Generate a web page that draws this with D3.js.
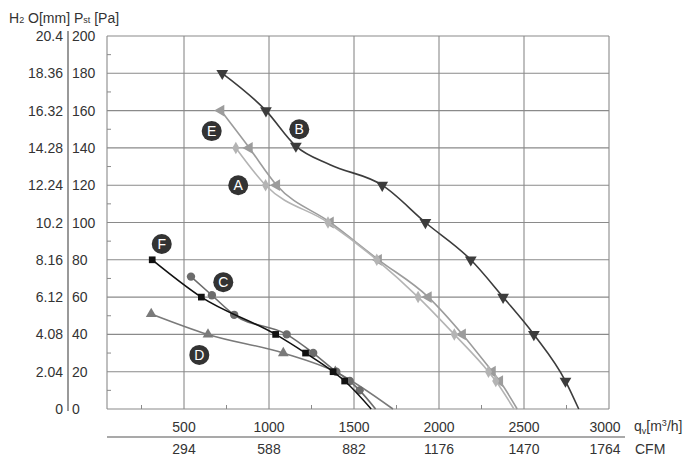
<!DOCTYPE html>
<html>
<meta charset="utf-8">
<style>
    body { margin: 0; background: #fff; }
    text { font-family: 'Liberation Sans', Arial, sans-serif; fill: #333; }
</style>
<body>
<svg width="700" height="467"></svg>
<script src="https://d3js.org/d3.v7.min.js"></script>
<script>
    // fan curves, [qv m3/h, Pst Pa, marker?]
    let curveA = [[805,140],[980,120],[1347,100],[1634,80],[1877,60],[2090,40],[2291,20],[2334,15],[2441,0,0]];
    let curveB = [[725,180],[982,160],[1158,141],[1359,131,0],[1666,120],[1920,100],[2187,80],[2377,60],[2558,40],[2744,15],[2822,0,0]];
    let curveC = [[541,71],[664,61],[795,50.5],[1104,40],[1260,30],[1396,20],[1475,15],[1533,10],[1627,0,0]];
    let curveD = [[307,51],[641,40],[1084,30],[1390,20],[1729,0,0]];
    let curveE = [[717,160],[884,140],[1045,120],[1361,100],[1644,80],[1937,60],[2138,40],[2314,20],[2357,15],[2460,0,0]];
    let curveF = [[313,80],[602,60],[1039,40],[1215,30],[1377,20],[1445,15],[1601,0,0]];

    let paTicks = [0,20,40,60,80,100,120,140,160,180,200];
    let mmTicks = ["0","2.04","4.08","6.12","8.16","10.2","12.24","14.28","16.32","18.36","20.4"];
    let qvTicks = [500,1000,1500,2000,2500,3000];
    let cfmTicks = ["294","588","882","1176","1470","1764"];

    // letter tags, [name, qv, Pst]
    let tags = [["E",663,149],["B",1178,150],["A",819,120],["C",731,68],["D",590,29],["F",369,88.5]];

    let margin = {top: 36, right: 91, bottom: 58, left: 107},
        width = 700 - margin.left - margin.right,
        height = 467 - margin.top - margin.bottom;

    let svg = d3.select("svg");
    let g = svg.append("g").attr("transform","translate("+margin.left+","+margin.top+")");

    let xScale = d3.scaleLinear().domain([47, 3000]).range([0, width]);
    let yScale = d3.scaleLinear().domain([0, 200]).range([height, 0]);

    // grid
    g.append("g").selectAll("line").data(paTicks).join("line")
        .attr("x1", 0).attr("x2", width)
        .attr("y1", d => yScale(d)).attr("y2", d => yScale(d))
        .style("stroke", "#8a8a8a").style("stroke-width", 1.1);
    g.append("g").selectAll("line").data(qvTicks).join("line")
        .attr("x1", d => xScale(d)).attr("x2", d => xScale(d))
        .attr("y1", 0).attr("y2", height)
        .style("stroke", "#8a8a8a").style("stroke-width", 1.1);
    g.append("line").attr("x1",0).attr("x2",0).attr("y1",0).attr("y2",height)
        .style("stroke", "#8a8a8a").style("stroke-width", 1.1);

    // minor ticks
    g.append("g").selectAll("line").data(d3.range(10, 200, 20)).join("line")
        .attr("x1", 0).attr("x2", 4)
        .attr("y1", d => yScale(d)).attr("y2", d => yScale(d))
        .style("stroke", "#8a8a8a");
    g.append("g").selectAll("line").data(d3.range(250, 3000, 500)).join("line")
        .attr("x1", d => xScale(d)).attr("x2", d => xScale(d))
        .attr("y1", height).attr("y2", height - 4)
        .style("stroke", "#8a8a8a");

    // left scales
    g.append("line").attr("x1",-39).attr("x2",-39).attr("y1",-5).attr("y2",height+2)
        .style("stroke", "#555").style("stroke-width", 1.2);
    g.append("g").selectAll("text").data(paTicks).join("text")
        .attr("x", -35).attr("y", d => yScale(d)).attr("dy", "0.36em")
        .style("font-size", "14px").text(d => d);
    g.append("g").selectAll("text").data(mmTicks).join("text")
        .attr("x", -44).attr("y", (d,i) => yScale(paTicks[i])).attr("dy", "0.36em")
        .attr("text-anchor", "end")
        .style("font-size", "14px").text(d => d);

    let head = svg.append("text").attr("x", 9).attr("y", 23).style("font-size", "14px");
    head.append("tspan").text("H");
    head.append("tspan").style("font-size", "9px").text("2");
    head.append("tspan").text(" O[mm]  P");
    head.append("tspan").style("font-size", "9px").text("st");
    head.append("tspan").text(" [Pa]");

    // bottom scales
    g.append("line").attr("x1",0).attr("x2",width+16).attr("y1",height+28).attr("y2",height+28)
        .style("stroke", "#555").style("stroke-width", 1.2);
    g.append("g").selectAll("text").data(qvTicks).join("text")
        .attr("x", d => xScale(d) - (d == 3000 ? 4 : 0)).attr("y", height + 18)
        .attr("dy", "0.36em").attr("text-anchor", "middle")
        .style("font-size", "14px").text(d => d);
    g.append("g").selectAll("text").data(cfmTicks).join("text")
        .attr("x", (d,i) => xScale(qvTicks[i]) - (i == 5 ? 4 : 0)).attr("y", height + 40)
        .attr("dy", "0.36em").attr("text-anchor", "middle")
        .style("font-size", "14px").text(d => d);

    let qv = g.append("text").attr("x", width + 25).attr("y", height + 22).style("font-size", "14px");
    qv.append("tspan").text("q");
    qv.append("tspan").style("font-size", "9px").attr("dy", 3).text("v");
    qv.append("tspan").attr("dy", -3).text("[m");
    qv.append("tspan").style("font-size", "9px").attr("dy", -5).text("3");
    qv.append("tspan").attr("dy", 5).text("/h]");
    g.append("text").attr("x", width + 26).attr("y", height + 40).attr("dy", "0.36em")
        .style("font-size", "14px").text("CFM");

    // curves
    let series = [
        {name: "B", data: curveB, color: "#3c3c3c", shape: "down"},
        {name: "E", data: curveE, color: "#9c9c9c", shape: "left"},
        {name: "A", data: curveA, color: "#b4b4b4", shape: "diamond"},
        {name: "D", data: curveD, color: "#7a7a7a", shape: "up"},
        {name: "C", data: curveC, color: "#6c6c6c", shape: "circle"},
        {name: "F", data: curveF, color: "#111", shape: "square"}
    ];

    let lineGenerator = d3.line()
        .x(d => xScale(d[0]))
        .y(d => yScale(d[1]))
        .curve(d3.curveMonotoneX);

    let symbols = {
        up: d3.symbol().type(d3.symbolTriangle).size(50),
        down: d3.symbol().type(d3.symbolTriangle).size(60),
        left: d3.symbol().type(d3.symbolTriangle).size(60),
        diamond: d3.symbol().type(d3.symbolDiamond).size(45),
        circle: d3.symbol().type(d3.symbolCircle).size(55),
        square: d3.symbol().type(d3.symbolSquare).size(45)
    };
    let rotate = {up: 0, down: 180, left: -90, diamond: 0, circle: 0, square: 0};

    series.forEach(function(s) {
        g.append("path")
            .attr("d", lineGenerator(s.data))
            .style("fill", "none")
            .style("stroke", s.color)
            .style("stroke-width", 1.6);
        g.append("g").selectAll("path")
            .data(s.data.filter(d => d[2] !== 0))
            .join("path")
            .attr("d", symbols[s.shape]())
            .attr("transform", d => "translate(" + xScale(d[0]) + "," + yScale(d[1]) + ") rotate(" + rotate[s.shape] + ")")
            .style("fill", s.color);
    });

    // tags
    let tag = g.append("g").selectAll("g").data(tags).join("g")
        .attr("transform", d => "translate(" + xScale(d[1]) + "," + yScale(d[2]) + ")");
    tag.append("circle").attr("r", 10).style("fill", "#333");
    tag.append("text").attr("text-anchor", "middle").attr("dy", "0.36em")
        .style("font-size", "14px").style("fill", "#fff").text(d => d[0]);
</script>
</body>
</html>
